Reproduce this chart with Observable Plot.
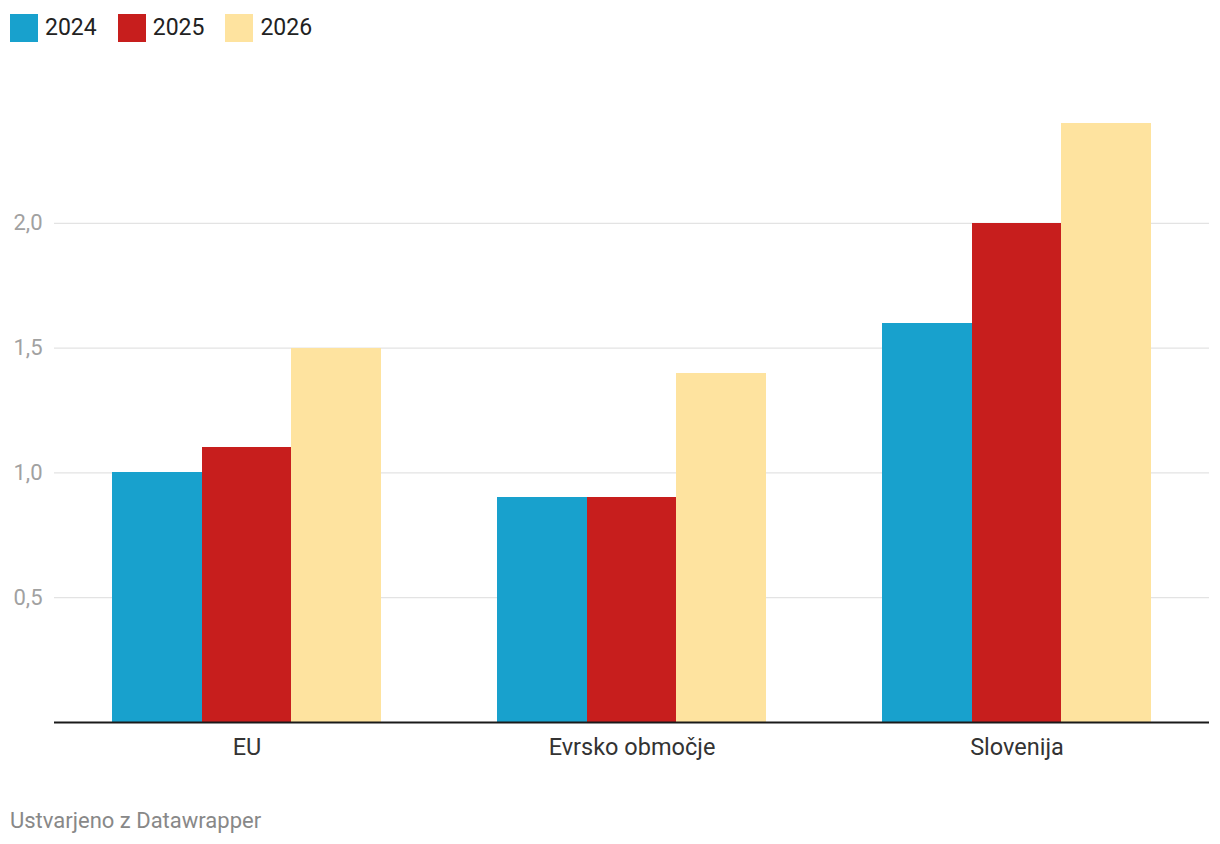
<!DOCTYPE html>
<html>
<head>
<meta charset="utf-8">
<script src="https://cdn.jsdelivr.net/npm/d3@7"></script>
<script src="https://cdn.jsdelivr.net/npm/@observablehq/plot@0.6"></script>
<style>
  html, body { margin: 0; padding: 0; background: #fff; font-family: Roboto, "Noto Sans", sans-serif; }
  #legend { height: 60px; box-sizing: border-box; padding: 14px 0 0 10px; display: flex; align-items: flex-start; }
  .item { display: flex; align-items: center; margin-right: 21px; font-size: 23px; color: #222; line-height: 28px; }
  .sw { width: 28px; height: 28px; margin-right: 7px; }
  #caption { padding: 28px 0 0 10px; font-size: 22px; color: #888; }
  svg { display: block; }
</style>
</head>
<body>
<div id="legend"></div>
<div id="chart"></div>
<div id="caption">Ustvarjeno z Datawrapper</div>
<script>
const countries = ["EU", "Evrsko območje", "Slovenija"];
const years = ["2024", "2025", "2026"];
const colors = ["#18a1cd", "#c71e1d", "#fee39f"];
const values2024 = [1.0, 0.9, 1.6];
const values2025 = [1.1, 0.9, 2.0];
const values2026 = [1.5, 1.4, 2.4];
const yTicks = [0.5, 1.0, 1.5, 2.0];

const series = [values2024, values2025, values2026];
const data = [];
countries.forEach((c, i) => years.forEach((y, j) => data.push({country: c, year: y, value: series[j][i]})));

const legend = document.getElementById("legend");
years.forEach((y, j) => {
  const it = document.createElement("div");
  it.className = "item";
  it.innerHTML = `<div class="sw" style="background:${colors[j]}"></div><span>${y}</span>`;
  legend.appendChild(it);
});

const chart = Plot.plot({
  width: 1220,
  height: 720,
  marginLeft: 53,
  marginRight: 10,
  marginTop: 63,
  marginBottom: 58,
  style: {fontFamily: "Roboto, sans-serif", background: "#fff"},
  fx: {domain: countries, padding: 0, label: null, axis: null},
  x: {domain: years, paddingInner: 0, paddingOuter: 0.65, axis: null, round: false},
  y: {domain: [0, 2.4], axis: null},
  color: {domain: years, range: colors},
  marks: [
    Plot.ruleY(yTicks, {stroke: "#e3e3e3", strokeWidth: 1.2}),
    Plot.barY(data, {fx: "country", x: "year", y: "value", fill: "year", shapeRendering: "crispEdges"}),
    Plot.ruleY([0], {stroke: "#1a1a1a", strokeWidth: 2}),
    Plot.axisY(yTicks, {anchor: "left", tickSize: 0, tickPadding: 12, tickFormat: d => d.toFixed(1).replace(".", ","), fill: "#a1a1a1", fontSize: 22, label: null}),
    Plot.axisFx({anchor: "bottom", tickSize: 0, tickPadding: 16, fontSize: 23.5, fill: "#333", label: null})
  ]
});
document.getElementById("chart").appendChild(chart);
</script>
</body>
</html>
